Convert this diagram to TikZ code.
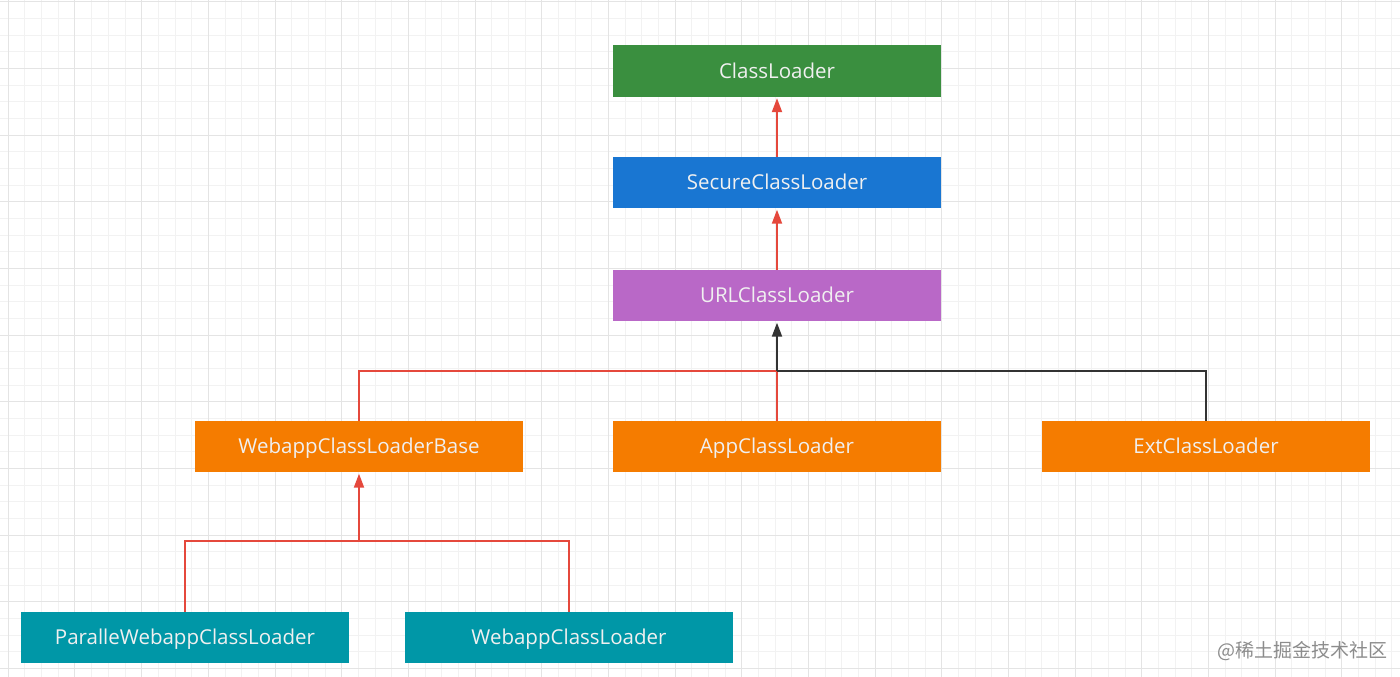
\documentclass[tikz,border=0pt]{standalone}
\usepackage{fontspec}
\setmainfont{Open Sans}
\newfontfamily\cjk{Noto Sans CJK SC}
\usetikzlibrary{arrows.meta}
\definecolor{cgreen}{HTML}{3A8F3F}
\definecolor{cblue}{HTML}{1976D2}
\definecolor{cpurple}{HTML}{B968C7}
\definecolor{corange}{HTML}{F57C00}
\definecolor{cteal}{HTML}{0097A7}
\definecolor{cred}{HTML}{E5483C}
\definecolor{cdark}{HTML}{333333}
\definecolor{gminor}{HTML}{F2F2F2}
\definecolor{gmajor}{HTML}{E4E4E4}
\definecolor{wmark}{HTML}{8C8C8C}
\begin{document}
\begin{tikzpicture}[x=1pt,y=-1pt,
  box/.style={rectangle, minimum width=328pt, minimum height=51pt, inner sep=0pt,
    text height=15pt, text depth=0.5pt,
    text=white!94!black, font=\fontsize{20.5}{24}\selectfont},
  redline/.style={draw=cred, line width=2pt},
  darkline/.style={draw=cdark, line width=2pt},
  tip/.style={-{Triangle[length=14pt,width=10pt]}, shorten >=1.5pt}]
\useasboundingbox (0,0) rectangle (1400,677);
\fill[white] (0,0) rectangle (1400,677);
% grid
\foreach \i in {0,...,84} {
  \pgfmathsetmacro{\xx}{8.33+16.667*\i}
  \draw[gminor, line width=1pt] (\xx,0) -- (\xx,677);
}
\foreach \i in {0,...,40} {
  \pgfmathsetmacro{\yy}{1.7+16.667*\i}
  \draw[gminor, line width=1pt] (0,\yy) -- (1400,\yy);
}
\foreach \i in {0,...,21} {
  \pgfmathsetmacro{\xx}{8.33+66.667*\i}
  \draw[gmajor, line width=1pt] (\xx,0) -- (\xx,677);
}
\foreach \i in {0,...,10} {
  \pgfmathsetmacro{\yy}{1.7+66.667*\i}
  \draw[gmajor, line width=1pt] (0,\yy) -- (1400,\yy);
}
% nodes
\node[box, fill=cgreen]  (cl)  at (777,71)    {ClassLoader};
\node[box, fill=cblue]   (sec) at (777,182.5) {SecureClassLoader};
\node[box, fill=cpurple] (url) at (777,295.5) {URLClassLoader};
\node[box, fill=corange] (wb)  at (359,446.5) {WebappClassLoaderBase};
\node[box, fill=corange] (app) at (777,446.5) {AppClassLoader};
\node[box, fill=corange] (ext) at (1206,446.5) {ExtClassLoader};
\node[box, fill=cteal]   (par) at (185,637.5) {ParalleWebappClassLoader};
\node[box, fill=cteal]   (web) at (569,637.5) {WebappClassLoader};
\node[anchor=base east, text=wmark, font=\cjk\fontsize{19}{22}\selectfont, inner sep=0pt] (wm) at (1388,657) {@稀土掘金技术社区};
% connectors
\coordinate (j1) at (777,371);
\coordinate (j2) at (359,541);
\draw[redline, tip] (sec.north) -- (cl.south);
\draw[redline, tip] (url.north) -- (sec.south);
\draw[redline] (wb.north) |- (j1);
\draw[redline] (app.north) -- (j1);
\draw[darkline] (ext.north) |- (j1);
\draw[darkline, tip] (j1) -- (url.south);
\draw[redline] (par.north) |- (j2);
\draw[redline] (web.north) |- (j2);
\draw[redline, tip] (j2) -- (wb.south);
\end{tikzpicture}
\end{document}
